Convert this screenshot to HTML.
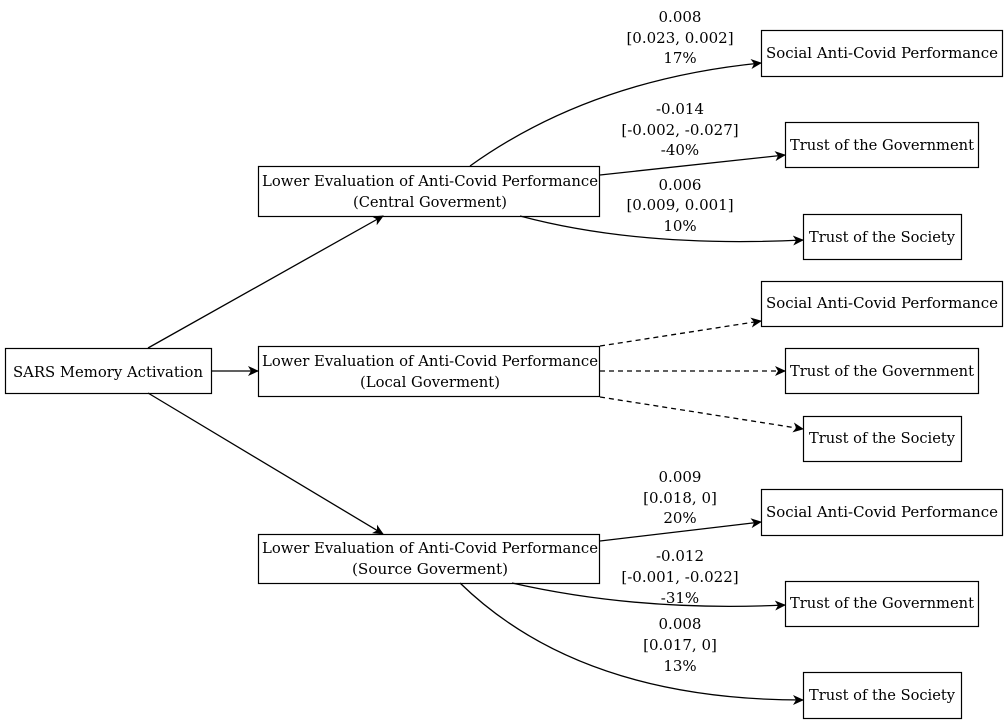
<!DOCTYPE html>
<html><head><meta charset="utf-8"><style>
html,body{margin:0;padding:0;background:#fff;}
svg text{font-family:"DejaVu Serif","Liberation Serif",serif;font-size:15px;fill:#000;}
</style></head><body>
<svg width="1008" height="723" viewBox="0 0 1008 723" xmlns="http://www.w3.org/2000/svg">
<defs>
<marker id="a" markerWidth="12" markerHeight="10" refX="10" refY="5" orient="auto" markerUnits="userSpaceOnUse">
<path d="M0,0 L11,5 L0,10 L3,5 Z" fill="#000"/>
</marker>
</defs>
<g fill="#fff" stroke="#000" stroke-width="1.2">
<rect x="5.5" y="348.5" width="206" height="45"/>
<rect x="258.5" y="166.5" width="341" height="50"/>
<rect x="258.5" y="346.5" width="341" height="50"/>
<rect x="258.5" y="534.5" width="341" height="49"/>
<rect x="761.5" y="30.5" width="241" height="46"/>
<rect x="785.5" y="122.5" width="193" height="45"/>
<rect x="803.5" y="214.5" width="158" height="45"/>
<rect x="761.5" y="281.5" width="241" height="45"/>
<rect x="785.5" y="348.5" width="193" height="45"/>
<rect x="803.5" y="416.5" width="158" height="45"/>
<rect x="761.5" y="489.5" width="241" height="46"/>
<rect x="785.5" y="581.5" width="193" height="45"/>
<rect x="803.5" y="672.5" width="158" height="46"/>
</g>
<g fill="none" stroke="#000" stroke-width="1.3" marker-end="url(#a)">
<path d="M148,348 L383,216"/>
<path d="M212,371 L258,371"/>
<path d="M148,393 L383,534"/>
<path d="M470,166 Q590,80 761,63"/>
<path d="M600,175 L785,155"/>
<path d="M520,216 Q640,248 803,240"/>
<path d="M600,346 L761,321" stroke-dasharray="5,4"/>
<path d="M600,371 L785,371" stroke-dasharray="5,4"/>
<path d="M600,397 L803,429" stroke-dasharray="5,4"/>
<path d="M600,541 L761,522"/>
<path d="M512,583 Q640,612 785,605"/>
<path d="M460,583 Q580,700 803,700"/>
</g>
<g text-anchor="middle">
<text x="108" y="377" textLength="190" lengthAdjust="spacingAndGlyphs">SARS Memory Activation</text>
<text x="430" y="186" textLength="336" lengthAdjust="spacingAndGlyphs">Lower Evaluation of Anti-Covid Performance</text>
<text x="430" y="207" textLength="154" lengthAdjust="spacingAndGlyphs">(Central Goverment)</text>
<text x="430" y="366" textLength="336" lengthAdjust="spacingAndGlyphs">Lower Evaluation of Anti-Covid Performance</text>
<text x="430" y="387" textLength="140" lengthAdjust="spacingAndGlyphs">(Local Goverment)</text>
<text x="430" y="553" textLength="336" lengthAdjust="spacingAndGlyphs">Lower Evaluation of Anti-Covid Performance</text>
<text x="430" y="574" textLength="156" lengthAdjust="spacingAndGlyphs">(Source Goverment)</text>
<g>
<text x="882" y="58" textLength="232" lengthAdjust="spacingAndGlyphs">Social Anti-Covid Performance</text>
<text x="882" y="150" textLength="184" lengthAdjust="spacingAndGlyphs">Trust of the Government</text>
<text x="882" y="242" textLength="146" lengthAdjust="spacingAndGlyphs">Trust of the Society</text>
<text x="882" y="308" textLength="232" lengthAdjust="spacingAndGlyphs">Social Anti-Covid Performance</text>
<text x="882" y="376" textLength="184" lengthAdjust="spacingAndGlyphs">Trust of the Government</text>
<text x="882" y="443" textLength="146" lengthAdjust="spacingAndGlyphs">Trust of the Society</text>
<text x="882" y="517" textLength="232" lengthAdjust="spacingAndGlyphs">Social Anti-Covid Performance</text>
<text x="882" y="608" textLength="184" lengthAdjust="spacingAndGlyphs">Trust of the Government</text>
<text x="882" y="700" textLength="146" lengthAdjust="spacingAndGlyphs">Trust of the Society</text>
</g>
<g>
<text x="680" y="22">0.008</text><text x="680" y="43">[0.023, 0.002]</text><text x="680" y="63">17%</text>
<text x="680" y="114">-0.014</text><text x="680" y="135">[-0.002, -0.027]</text><text x="680" y="155">-40%</text>
<text x="680" y="190">0.006</text><text x="680" y="210">[0.009, 0.001]</text><text x="680" y="231">10%</text>
<text x="680" y="482">0.009</text><text x="680" y="503">[0.018, 0]</text><text x="680" y="523">20%</text>
<text x="680" y="561">-0.012</text><text x="680" y="582">[-0.001, -0.022]</text><text x="680" y="603">-31%</text>
<text x="680" y="629">0.008</text><text x="680" y="650">[0.017, 0]</text><text x="680" y="671">13%</text>
</g>
</g>
</svg>
</body></html>
